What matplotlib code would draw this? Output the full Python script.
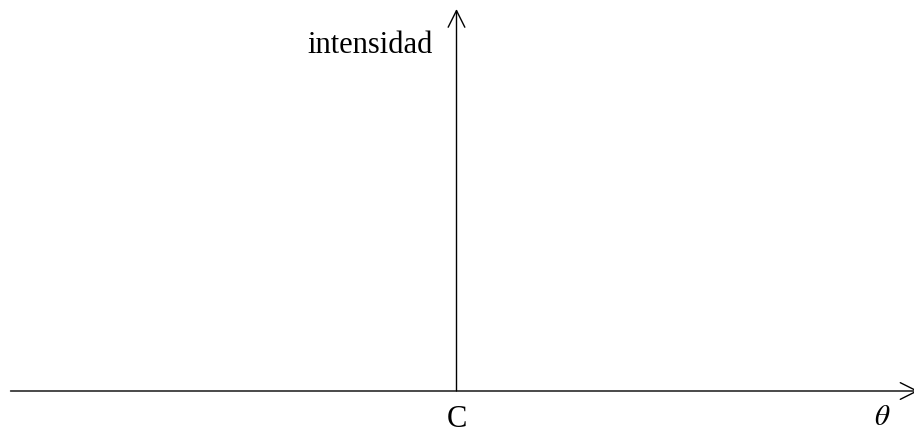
import matplotlib
matplotlib.use("Agg")
import matplotlib.pyplot as plt
from matplotlib.patches import FancyArrowPatch

plt.rcParams['font.family'] = ['Liberation Serif', 'DejaVu Serif']
plt.rcParams['mathtext.fontset'] = 'stix'

# diagram coordinates, origin at C
theta_axis = [-446, 462]
intensity_axis = [0, 382]
y_label = "intensidad"
x_label = r"$\theta$"
center_label = "C"

fig = plt.figure(figsize=(9.14, 4.33), dpi=100)
ax = fig.add_axes([0, 0, 1, 1])
ax.set_xlim(-456.5, 457.5)
ax.set_ylim(-42, 391)
ax.axis('off')

arrow_style = '->,head_length=12,head_width=6'
ax.add_patch(FancyArrowPatch((theta_axis[0], 0), (theta_axis[1], 0),
                             arrowstyle=arrow_style, mutation_scale=1,
                             shrinkA=0, shrinkB=0, lw=1.0, color='black'))
ax.add_patch(FancyArrowPatch((0, intensity_axis[0]), (0, intensity_axis[1]),
                             arrowstyle=arrow_style, mutation_scale=1,
                             shrinkA=0, shrinkB=0, lw=1.0, color='black'))

ax.text(-23.5, 338, y_label, fontsize=22, ha='right', va='baseline')
ax.text(0, -36, center_label, fontsize=22, ha='center', va='baseline')
ax.text(426, -34, x_label, fontsize=21, ha='center', va='baseline')

fig.savefig("out.png", dpi=100)
